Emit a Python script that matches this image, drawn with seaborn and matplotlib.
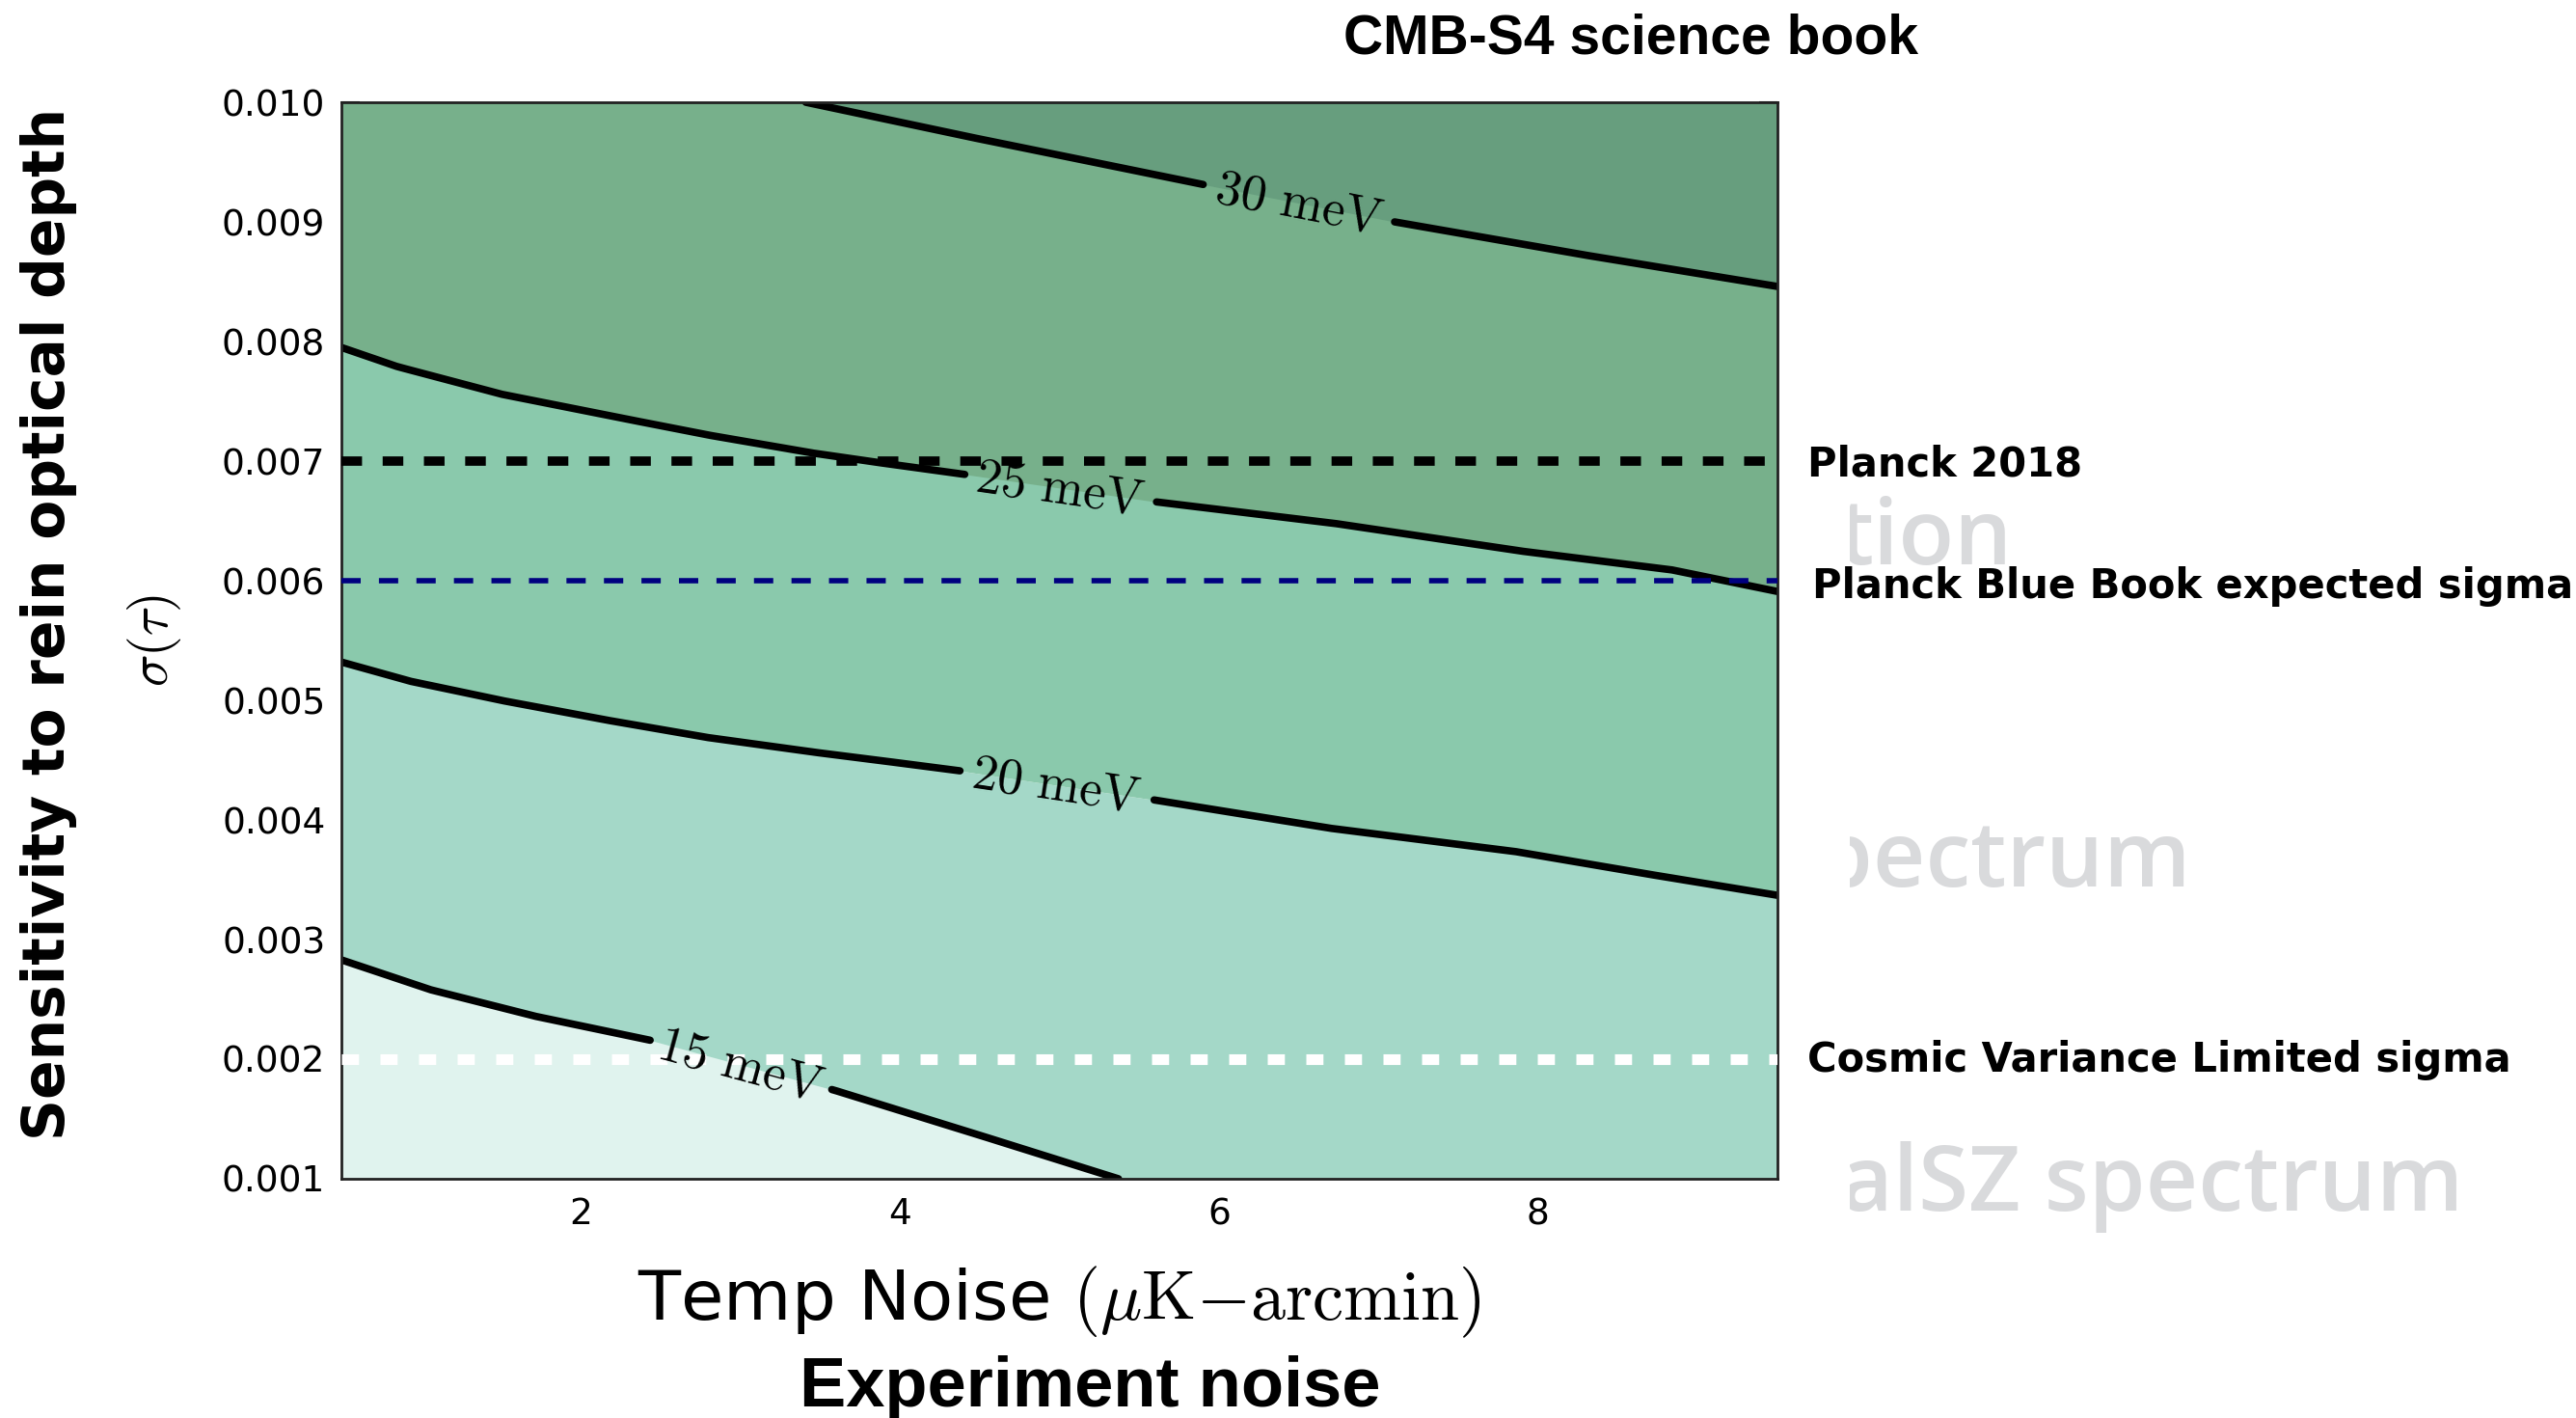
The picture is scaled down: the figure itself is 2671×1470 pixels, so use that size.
import numpy as np
import matplotlib
matplotlib.use("Agg")
import matplotlib.pyplot as plt
import seaborn as sns
from matplotlib.transforms import Bbox, TransformedBbox

# ---------------- data ----------------
levels = [15, 20, 25, 30]
level_labels = ["15", "20", "25", "30"]

# contour line sigma(tau) vs temp noise for each neutrino-mass level (meV)
x15 = [0.50, 1.06, 1.71, 2.43, 3.59, 4.39, 5.37]
y15 = [0.00283, 0.00258, 0.00236, 0.00216, 0.00174, 0.00141, 0.00100]

x20 = [0.50, 0.93, 1.50, 2.14, 2.79, 3.44, 3.80, 4.38, 5.58, 6.70, 7.86, 8.63, 9.50]
y20 = [0.00532, 0.00516, 0.00500, 0.00484, 0.00469, 0.00457, 0.00451, 0.00441, 0.00417, 0.00393,
       0.003735, 0.00356, 0.00337]

x25 = [0.50, 0.85, 1.50, 2.14, 2.79, 3.44, 3.80, 4.40, 5.60, 6.72, 7.88, 8.84, 9.50]
y25 = [0.00795, 0.00779, 0.00756, 0.00739, 0.00722, 0.00707, 0.00700, 0.00689, 0.00666, 0.00648,
       0.00625, 0.00609, 0.00591]

x30 = [3.41, 4.40, 5.91, 7.10, 8.26, 9.50]
y30 = [0.01000, 0.00972, 0.00931, 0.00900, 0.00873, 0.00846]

# reference sigma(tau) lines
sigma_planck2018 = 0.007
sigma_bluebook = 0.006
sigma_cvl = 0.002

xticks = [2, 4, 6, 8]
xtick_labels = ["2", "4", "6", "8"]
yticks = [0.001, 0.002, 0.003, 0.004, 0.005, 0.006, 0.007, 0.008, 0.009, 0.010]
ytick_labels = ["0.001", "0.002", "0.003", "0.004", "0.005", "0.006", "0.007", "0.008", "0.009", "0.010"]

# ---------------- style ----------------
sns.set_style("ticks")
plt.rcParams["font.family"] = ["DejaVu Sans"]
plt.rcParams["mathtext.fontset"] = "cm"
plt.rcParams["text.color"] = "black"
plt.rcParams["axes.labelcolor"] = "black"

W, H = 2671, 1470
fig = plt.figure(figsize=(W / 100, H / 100), dpi=100)
ax_l, ax_r, ax_t, ax_b = 354, 1843, 106, 1222
ax = fig.add_axes([ax_l / W, 1 - ax_b / H, (ax_r - ax_l) / W, (ax_b - ax_t) / H])

XMIN, XMAX, YMIN, YMAX = 0.5, 9.5, 0.001, 0.010
ax.set_xlim(XMIN, XMAX)
ax.set_ylim(YMIN, YMAX)

col_lt15 = "#e0f3ee"
col_15_20 = "#a4d8c8"
col_20_25 = "#8ac9ac"
col_25_30 = "#77b08b"
col_gt30 = "#679e7e"

# filled bands (layered)
ax.fill_between(x20, YMIN, y20, color=col_15_20, lw=0, zorder=1)
ax.fill_between(x15, YMIN, y15, color=col_lt15, lw=0, zorder=1.1)
ax.fill_between(x20, y20, YMAX, color=col_20_25, lw=0, zorder=1.2)
ax.fill_between(x25, y25, YMAX, color=col_25_30, lw=0, zorder=1.3)
ax.fill_between(x30, y30, YMAX, color=col_gt30, lw=0, zorder=1.4)

curves = [(x15, y15), (x20, y20), (x25, y25), (x30, y30)]
gaps = [(2.44, 3.57), (4.38, 5.58), (4.41, 5.60), (5.91, 7.10)]
lab_x = [3.00, 4.98, 5.00, 6.50]

for (cx, cy), (g0, g1) in zip(curves, gaps):
    cx = np.asarray(cx); cy = np.asarray(cy)
    xf = np.linspace(cx.min(), cx.max(), 600)
    yf = np.interp(xf, cx, cy)
    for m in (xf <= g0, xf >= g1):
        if m.sum() > 1:
            sns.lineplot(x=xf[m], y=yf[m], ax=ax, color="black", linewidth=5.5,
                         sort=False, estimator=None, legend=False, zorder=2)

# reference lines
ax.axhline(sigma_planck2018, color="black", lw=7, dashes=(2.2, 2.2), zorder=3)
ax.axhline(sigma_bluebook, color="#000080", lw=4, dashes=(3.6, 3.4), zorder=3)
ax.axhline(sigma_cvl, color="white", lw=8, dashes=(1.6, 2.0), zorder=3)

# contour labels
fig.canvas.draw()
for (cx, cy), lx, lev in zip(curves, lab_x, level_labels):
    ly = float(np.interp(lx, cx, cy))
    p1 = ax.transData.transform((lx - 0.3, np.interp(lx - 0.3, cx, cy)))
    p2 = ax.transData.transform((lx + 0.3, np.interp(lx + 0.3, cx, cy)))
    ang = np.degrees(np.arctan2(p2[1] - p1[1], p2[0] - p1[0]))
    ax.text(lx, ly, r"$%s\ \mathrm{meV}$" % lev, fontsize=38, rotation=ang,
            rotation_mode="anchor", ha="center", va="center", color="black", zorder=4)

# ticks / spines
ax.set_xticks(xticks)
ax.set_xticklabels(xtick_labels)
ax.set_yticks(yticks)
ax.set_yticklabels(ytick_labels)
ax.tick_params(axis="both", which="major", direction="in", length=13.5, width=1.5,
               labelsize=27, top=True, right=True, colors="black")
ax.tick_params(axis="x", pad=14)
ax.tick_params(axis="y", pad=12)
for s in ax.spines.values():
    s.set_linewidth(2)
    s.set_color("#222222")
    s.set_visible(True)

ax.set_xlabel(r"Temp Noise $(\mu\mathrm{K}{-}\mathrm{arcmin})$", fontsize=52, color="black")
ax.xaxis.set_label_coords(0.5, -0.08)
ax.set_ylabel(r"$\sigma(\tau)$", fontsize=40, color="black")
ax.yaxis.set_label_coords(-0.11, 0.5)

# slide annotations
fig.text(1691 / W, 1 - 56 / H, "CMB-S4 science book", family=["Liberation Sans", "DejaVu Sans"],
         weight="bold", fontsize=41, ha="center", va="baseline")
fig.text(1130 / W, 1 - 1458 / H, "Experiment noise", family=["Liberation Sans", "DejaVu Sans"],
         weight="bold", fontsize=52, ha="center", va="baseline")
fig.text(51 / W, 1 - 647 / H, "Sensitivity to rein optical depth", weight="bold", fontsize=43,
         rotation=90, ha="center", va="center")
fig.text(1874 / W, 1 - 482 / H, "Planck 2018", weight="bold", fontsize=30, ha="left", va="center")
fig.text(1879 / W, 1 - 608 / H, "Planck Blue Book expected sigma", weight="bold", fontsize=30,
         ha="left", va="center")
fig.text(1874 / W, 1 - 1099 / H, "Cosmic Variance Limited sigma", weight="bold", fontsize=30,
         ha="left", va="center")

# faded slide remnants, partly hidden
clip = TransformedBbox(Bbox.from_extents(1918 / W, 0, 1, 1), fig.transFigure)
for txt, xr, yb in [("tion", 2086, 585), ("spectrum", 2272, 919), ("alSZ spectrum", 2554, 1255)]:
    t = fig.text(xr / W, 1 - yb / H, txt, family=["Open Sans", "DejaVu Sans"], weight="semibold",
                 fontsize=68, color="#d9dadc", ha="right", va="baseline")
    t.set_clip_box(clip)
    t.set_clip_on(True)

fig.savefig("out.png", dpi=100)
